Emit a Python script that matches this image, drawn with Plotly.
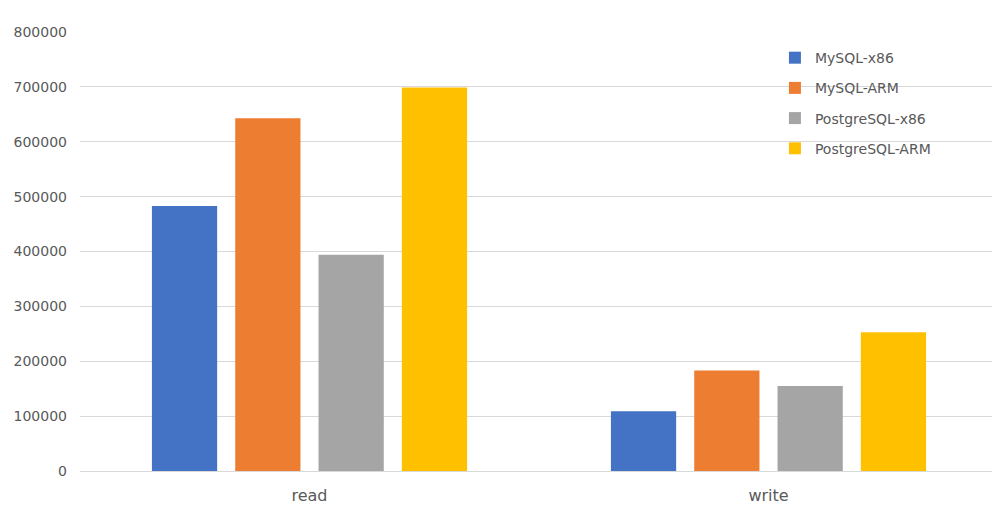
import plotly.graph_objects as go

categories = ["read", "write"]
series_names = ["MySQL-x86", "MySQL-ARM", "PostgreSQL-x86", "PostgreSQL-ARM"]
mysql_x86 = [483000, 109000]
mysql_arm = [643000, 183000]
postgres_x86 = [394000, 155000]
postgres_arm = [699000, 253000]
colors = ["#4472C4", "#ED7D31", "#A5A5A5", "#FFC000"]

fig = go.Figure()
for name, vals, col in zip(series_names, [mysql_x86, mysql_arm, postgres_x86, postgres_arm], colors):
    fig.add_trace(go.Bar(
        x=categories, y=vals, name=name, legendgroup=name,
        marker=dict(color=col, line=dict(width=0))
    ))

# page body has an 8px margin, so margins are shifted accordingly
fig.update_layout(
    width=1000, height=519,
    margin=dict(l=72, r=10, t=24, b=56),
    paper_bgcolor="white", plot_bgcolor="white",
    barmode="group", bargap=0.274, bargroupgap=0.217,
    font=dict(family="DejaVu Sans, Verdana, sans-serif", color="#595959"),
    xaxis=dict(showgrid=False, ticks="", showline=True, linecolor="#d9d9d9",
               automargin=False, ticklabelstandoff=10,
               tickfont=dict(size=16, color="#595959")),
    yaxis=dict(range=[0, 800000], dtick=100000, tickformat="d",
               showgrid=True, gridcolor="#d9d9d9", gridwidth=1,
               zeroline=False, showline=False, ticks="",
               automargin=False, ticklabelstandoff=12,
               tickfont=dict(size=14, color="#595959")),
    legend=dict(x=0.757, y=0.977, xanchor="left", yanchor="top",
                traceorder="grouped", tracegroupgap=9,
                bgcolor="rgba(0,0,0,0)", font=dict(size=14, color="#595959"),
                itemwidth=30),
)

fig.write_html("out.html")
